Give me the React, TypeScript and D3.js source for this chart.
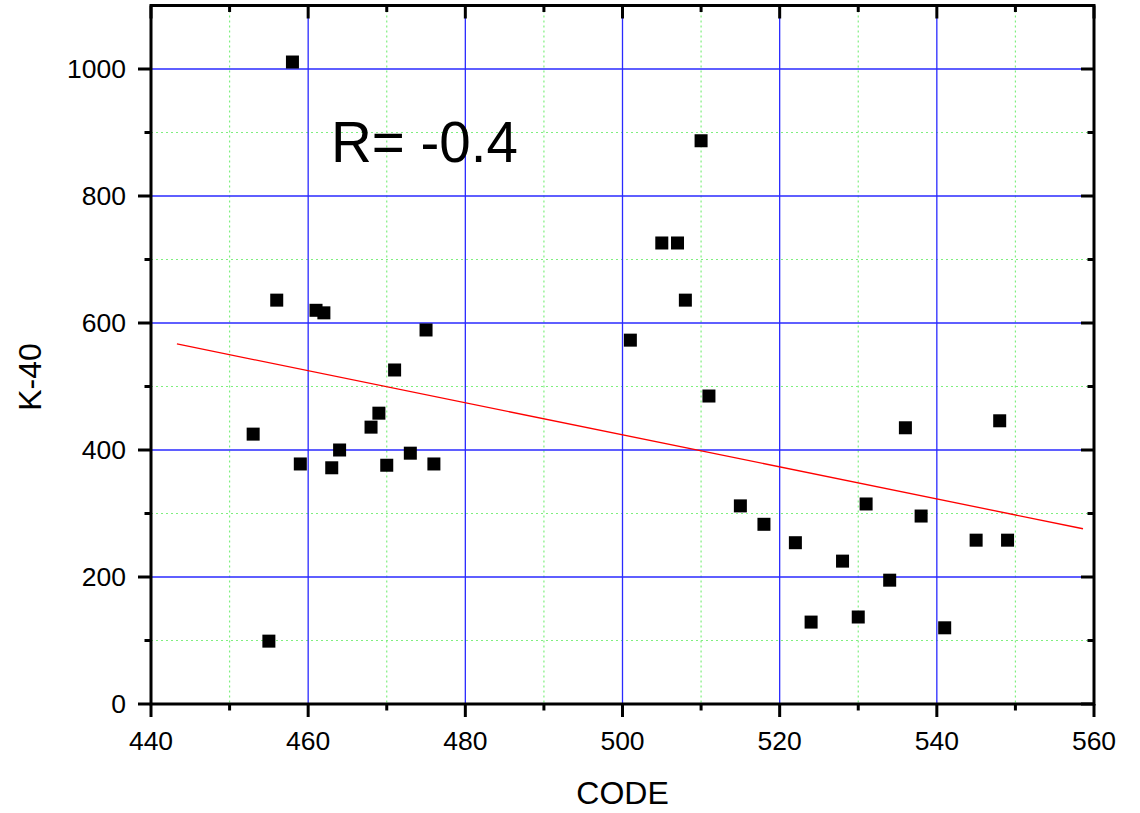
import React from "react";
import * as d3 from "d3";

const codes = [458, 456, 461, 462, 475, 471, 469, 468, 453, 464, 473, 459, 470, 476, 463, 455,
  510, 505, 507, 508, 501, 511, 536, 548, 515, 531, 538, 518, 522, 545, 549, 528, 534, 530, 524, 541];
const k40 = [1011, 636, 620, 616, 589, 526, 458, 436, 425, 400, 395, 378, 376, 378, 372, 99,
  887, 726, 726, 636, 573, 485, 435, 446, 312, 315, 296, 283, 254, 258, 258, 225, 195, 137, 129, 120];
const fitX = [443.3, 558.6];
const fitY = [567, 276];
const xMajor = [440, 460, 480, 500, 520, 540, 560];
const xMinor = [450, 470, 490, 510, 530, 550];
const yMajor = [0, 200, 400, 600, 800, 1000];
const yMinor = [100, 300, 500, 700, 900];

const W = 1140, H = 813;
const L = 151, R = 1094, T = 5.5, B = 704;

export default function App() {
  const x = d3.scaleLinear().domain([440, 560]).range([L, R]);
  const y = d3.scaleLinear().domain([0, 1100]).range([B, T]);
  const line = d3.line<number>().x((d, i) => x(fitX[i])).y((d, i) => y(fitY[i]));
  const font = "Liberation Sans, Arial, sans-serif";
  const sq = 13;
  return (
    <svg width={W} height={H} style={{ position: "absolute", left: 0, top: 0, background: "#fff" }} fontFamily={font}>
      {/* minor grid */}
      {xMinor.map(v => (
        <line key={"xm" + v} x1={x(v)} x2={x(v)} y1={T} y2={B} stroke="#7fef7f" strokeWidth={1.2} strokeDasharray="2,3" />
      ))}
      {yMinor.map(v => (
        <line key={"ym" + v} x1={L} x2={R} y1={y(v)} y2={y(v)} stroke="#7fef7f" strokeWidth={1.2} strokeDasharray="2,3" />
      ))}
      {/* major grid */}
      {xMajor.slice(1, -1).map(v => (
        <line key={"xg" + v} x1={x(v)} x2={x(v)} y1={T} y2={B} stroke="#2a2aff" strokeWidth={1.3} />
      ))}
      {yMajor.slice(1).map(v => (
        <line key={"yg" + v} x1={L} x2={R} y1={y(v)} y2={y(v)} stroke="#2a2aff" strokeWidth={1.3} />
      ))}
      {/* fit line */}
      <path d={line(fitX) || ""} fill="none" stroke="#ff0000" strokeWidth={1.3} />
      {/* points */}
      {codes.map((c, i) => (
        <rect key={"p" + i} x={x(c) - sq / 2} y={y(k40[i]) - sq / 2} width={sq} height={sq} fill="#000" />
      ))}
      {/* frame */}
      <rect x={L} y={T} width={R - L} height={B - T} fill="none" stroke="#000" strokeWidth={3} />
      {/* ticks */}
      {xMajor.map(v => (
        <g key={"xt" + v}>
          <line x1={x(v)} x2={x(v)} y1={B} y2={B + 13} stroke="#000" strokeWidth={3} />
          <line x1={x(v)} x2={x(v)} y1={T} y2={T + 13} stroke="#000" strokeWidth={3} />
          <text x={x(v)} y={750} fontSize={26.5} textAnchor="middle" fill="#000">{v}</text>
        </g>
      ))}
      {xMinor.map(v => (
        <g key={"xmt" + v}>
          <line x1={x(v)} x2={x(v)} y1={B} y2={B + 6.5} stroke="#000" strokeWidth={3} />
          <line x1={x(v)} x2={x(v)} y1={T} y2={T + 6.5} stroke="#000" strokeWidth={3} />
        </g>
      ))}
      {yMajor.map(v => (
        <g key={"yt" + v}>
          <line x1={L - 13} x2={L} y1={y(v)} y2={y(v)} stroke="#000" strokeWidth={3} />
          <line x1={R - 13} x2={R} y1={y(v)} y2={y(v)} stroke="#000" strokeWidth={3} />
          <text x={L - 25} y={y(v)} dy="0.35em" fontSize={26.5} textAnchor="end" fill="#000">{v}</text>
        </g>
      ))}
      {yMinor.map(v => (
        <g key={"ymt" + v}>
          <line x1={L - 6.5} x2={L} y1={y(v)} y2={y(v)} stroke="#000" strokeWidth={3} />
          <line x1={R - 6.5} x2={R} y1={y(v)} y2={y(v)} stroke="#000" strokeWidth={3} />
        </g>
      ))}
      {/* titles */}
      <text x={(L + R) / 2} y={804} fontSize={32} textAnchor="middle" fill="#000">CODE</text>
      <text transform={`translate(41,377) rotate(-90)`} fontSize={32} textAnchor="middle" fill="#000">K-40</text>
      <text x={331} y={162} fontSize={56.5} fill="#000">R= -0.4</text>
    </svg>
  );
}
